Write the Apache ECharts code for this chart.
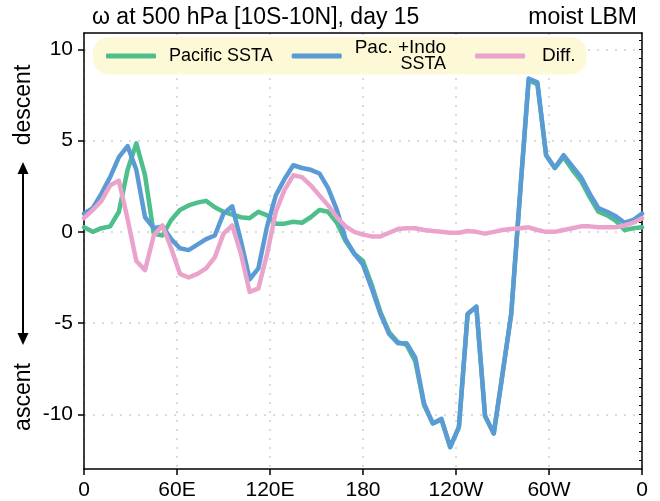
<!DOCTYPE html>
<html>
<head>
<meta charset="utf-8">
<script src="https://cdn.jsdelivr.net/npm/echarts@6/dist/echarts.min.js"></script>
<style>
	html, body { margin: 0; padding: 0; background: #fff; }
	#main { width: 660px; height: 501px; }
</style>
</head>
<body>
<div id="main"></div>
<script>
// longitude (deg east), T42 grid every 2nd point
const lon = [0, 5.625, 11.25, 16.875, 22.5, 28.125, 33.75, 39.375, 45, 50.625, 56.25, 61.875, 67.5, 73.125, 78.75, 84.375,
	90, 95.625, 101.25, 106.875, 112.5, 118.125, 123.75, 129.375, 135, 140.625, 146.25, 151.875, 157.5, 163.125, 168.75, 174.375,
	180, 185.625, 191.25, 196.875, 202.5, 208.125, 213.75, 219.375, 225, 230.625, 236.25, 241.875, 247.5, 253.125, 258.75, 264.375,
	270, 275.625, 281.25, 286.875, 292.5, 298.125, 303.75, 309.375, 315, 320.625, 326.25, 331.875, 337.5, 343.125, 348.75, 354.375, 360]

const pacific = [0.25, 0.0, 0.2, 0.3, 1.1, 3.4, 4.85, 3.1, -0.1, -0.2, 0.65, 1.2, 1.45, 1.6, 1.7, 1.35,
	1.1, 0.95, 0.8, 0.75, 1.1, 0.9, 0.45, 0.45, 0.55, 0.5, 0.8, 1.2, 1.1, 0.5, -0.5, -1.2,
	-1.6, -2.9, -4.4, -5.5, -6.05, -6.2, -7.1, -9.5, -10.5, -10.3, -11.8, -10.7, -4.5, -4.1, -10.1, -11.05,
	-7.8, -4.5, 2.0, 8.3, 8.1, 4.2, 3.5, 4.1, 3.4, 2.8, 1.9, 1.1, 0.9, 0.6, 0.1, 0.2, 0.25]

const pacIndo = [1.0, 1.3, 2.1, 3.0, 4.1, 4.7, 3.4, 0.8, 0.2, 0.3, -0.4, -0.9, -1.0, -0.7, -0.4, -0.2,
	1.0, 1.4, -0.5, -2.6, -2.0, 0.3, 2.0, 2.9, 3.65, 3.5, 3.4, 3.2, 2.4, 1.2, -0.4, -1.2,
	-1.8, -3.1, -4.5, -5.6, -6.1, -6.1, -6.9, -9.4, -10.5, -10.25, -11.8, -10.7, -4.5, -4.1, -10.1, -11.05,
	-7.8, -4.5, 2.0, 8.4, 8.2, 4.2, 3.5, 4.2, 3.6, 3.0, 2.1, 1.3, 1.1, 0.85, 0.5, 0.65, 1.0]

const diff = [0.75, 1.2, 1.7, 2.55, 2.8, 0.7, -1.6, -2.1, -0.2, 0.35, -0.9, -2.3, -2.5, -2.3, -2.0, -1.4,
	-0.1, 0.35, -1.2, -3.3, -3.1, -1.2, 1.1, 2.3, 3.1, 3.0, 2.55, 2.0, 1.45, 0.8, 0.3, 0.0,
	-0.15, -0.25, -0.25, -0.05, 0.15, 0.2, 0.2, 0.1, 0.05, 0.0, -0.05, -0.05, 0.05, 0.0, -0.1, 0.0,
	0.1, 0.15, 0.2, 0.25, 0.1, 0.0, 0.0, 0.1, 0.2, 0.3, 0.3, 0.25, 0.25, 0.25, 0.35, 0.5, 0.75]

const lonTicks = [0, 60, 120, 180, 240, 300, 360]
const lonLabels = ['0', '60E', '120E', '180', '120W', '60W', '0']
const yTicks = [-10, -5, 0, 5, 10]
const yMinor = [-12.5, -12, -11.5, -11, -10.5, -10, -9.5, -9, -8.5, -8, -7.5, -7, -6.5, -6, -5.5, -5, -4.5, -4, -3.5, -3, -2.5, -2, -1.5, -1, -0.5,
	0, 0.5, 1, 1.5, 2, 2.5, 3, 3.5, 4, 4.5, 5, 5.5, 6, 6.5, 7, 7.5, 8, 8.5, 9, 9.5, 10, 10.5]

const font = 'Liberation Sans'
const toPairs = (vals) => vals.map((v, i) => [lon[i], v])

const myChart = echarts.init(document.getElementById('main'), null, { renderer: 'canvas' })

const lineSeries = (name, vals, color, z) => ({
	name: name,
	type: 'line',
	data: toPairs(vals),
	showSymbol: false,
	z: z,
	lineStyle: { color: color, width: 4.5, cap: 'round', join: 'round' },
	itemStyle: { color: color }
})

myChart.setOption({
	animation: false,
	textStyle: { fontFamily: font },
	title: [
		{ text: 'ω at 500 hPa [10S-10N], day 15', left: 87, top: 1,
			textStyle: { fontFamily: font, fontSize: 23, fontWeight: 'normal', color: '#000' } },
		{ text: 'moist LBM', right: 18, top: 1,
			textStyle: { fontFamily: font, fontSize: 23, fontWeight: 'normal', color: '#000' } }
	],
	legend: {
		left: 93,
		top: 37,
		padding: [1, 11, 1, 13],
		backgroundColor: '#fdf9d6',
		borderRadius: 16,
		itemWidth: 50,
		itemHeight: 5,
		itemGap: 19,
		icon: 'roundRect',
		formatter: (name) => name === 'Pac. +Indo\nSSTA' ? '{a|Pac. +Indo}\n{b|SSTA}' : name,
		textStyle: {
			fontFamily: font, fontSize: 18, color: '#000', lineHeight: 17, padding: [0, 0, 0, 8],
			rich: {
				a: { fontFamily: font, fontSize: 19, lineHeight: 17, align: 'right' },
				b: { fontFamily: font, fontSize: 18, lineHeight: 17, align: 'right' }
			}
		},
		data: [
			'Pacific SSTA',
			{ name: 'Pac. +Indo\nSSTA', textStyle: { padding: [0, 10, 0, 8] } },
			{ name: 'Diff.', textStyle: { fontSize: 19, padding: [0, 0, 0, 12] } }
		]
	},
	grid: { left: 84, right: 18, top: 33, bottom: 32 },
	xAxis: [
		{
			type: 'value', min: 0, max: 360, interval: 60,
			axisLine: { onZero: false, lineStyle: { color: '#000', width: 1.5 } },
			axisTick: { length: 6, lineStyle: { color: '#000', width: 1.5 } },
			axisLabel: {
				fontFamily: font, fontSize: 21, color: '#000', margin: 11,
				formatter: (v) => lonLabels[lonTicks.indexOf(v)]
			},
			splitLine: { show: true, lineStyle: { color: '#d0d0d0', width: 1.5, type: [2, 7] } }
		},
		{
			type: 'value', min: 0, max: 360, position: 'top',
			axisLine: { show: true, onZero: false, lineStyle: { color: '#000', width: 1.5 } },
			axisTick: { show: false }, axisLabel: { show: false }, splitLine: { show: false }
		}
	],
	yAxis: [
		{
			type: 'value', min: -13, max: 10.9,
			axisLine: { show: true, onZero: false, lineStyle: { color: '#000', width: 1.5 } },
			axisTick: { show: true, length: 6, customValues: yTicks, lineStyle: { color: '#000', width: 1.5 } },
			axisLabel: { fontFamily: font, fontSize: 21, color: '#000', margin: 11, customValues: yTicks },
			splitLine: { show: true, lineStyle: { color: '#d0d0d0', width: 1.5, type: [2, 7] } }
		},
		{
			type: 'value', min: -13, max: 10.9, position: 'right',
			axisLine: { show: true, onZero: false, lineStyle: { color: '#000', width: 1.5 } },
			axisTick: { show: true, inside: true, length: 3, customValues: yMinor,
				lineStyle: { color: '#000', width: 1 } },
			axisLabel: { show: false }, splitLine: { show: false }
		}
	],
	graphic: [
		{ type: 'text', x: 24, y: 105, rotation: Math.PI / 2,
			style: { text: 'descent', font: '23px "Liberation Sans"', fill: '#000', align: 'center', verticalAlign: 'middle' } },
		{ type: 'text', x: 24, y: 397, rotation: Math.PI / 2,
			style: { text: 'ascent', font: '23px "Liberation Sans"', fill: '#000', align: 'center', verticalAlign: 'middle' } },
		{ type: 'line', shape: { x1: 23, y1: 170, x2: 23, y2: 337 }, style: { stroke: '#000', lineWidth: 2 } },
		{ type: 'polygon', shape: { points: [[23, 162], [17.5, 174], [28.5, 174]] }, style: { fill: '#000' } },
		{ type: 'polygon', shape: { points: [[23, 345], [17.5, 333], [28.5, 333]] }, style: { fill: '#000' } }
	],
	series: [
		lineSeries('Pacific SSTA', pacific, '#4dbf8b', 2),
		lineSeries('Pac. +Indo\nSSTA', pacIndo, '#5b9bd5', 3),
		lineSeries('Diff.', diff, '#eaa3cb', 4)
	]
})
</script>
</body>
</html>
